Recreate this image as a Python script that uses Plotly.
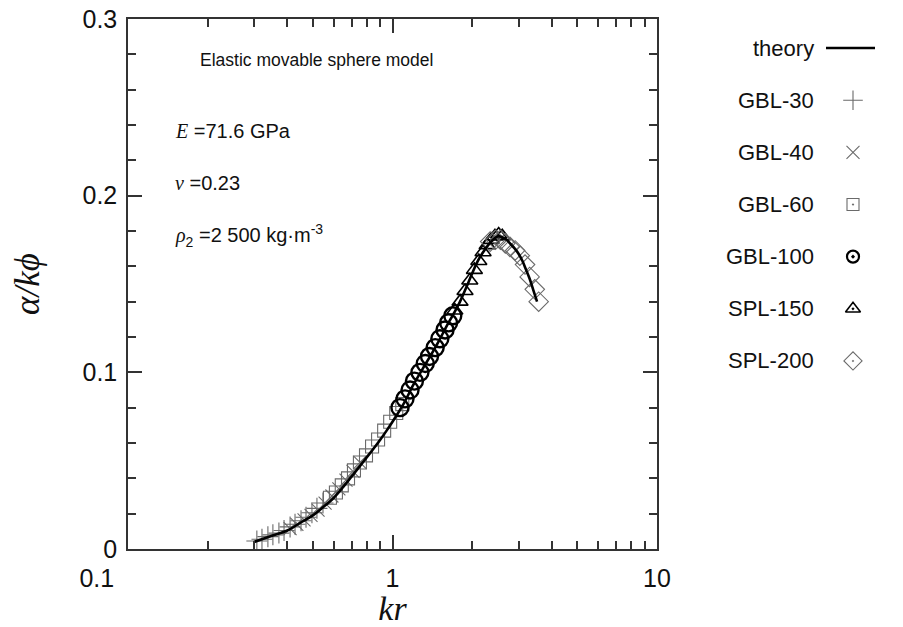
import plotly.graph_objects as go

# ---------------- data ----------------
kr_theory = [0.30, 0.35, 0.40, 0.45, 0.50, 0.55, 0.60, 0.65, 0.70, 0.75, 0.80, 0.85, 0.90, 0.95,
             1.0, 1.1, 1.2, 1.3, 1.4, 1.5, 1.6, 1.7, 1.8, 1.9, 2.0, 2.1, 2.2, 2.3, 2.4, 2.5,
             2.6, 2.7, 2.8, 2.9, 3.0, 3.1, 3.2, 3.3, 3.4, 3.52]
a_theory = [0.004, 0.0075, 0.0105, 0.015, 0.019, 0.024, 0.029, 0.035, 0.041, 0.0466, 0.052, 0.057,
            0.062, 0.067, 0.072, 0.082, 0.093, 0.102, 0.110, 0.118, 0.126, 0.133, 0.140, 0.148,
            0.156, 0.163, 0.168, 0.172, 0.175, 0.177, 0.1765, 0.175, 0.1725, 0.170, 0.167, 0.163,
            0.158, 0.153, 0.147, 0.140]

kr_gbl30 = [0.307, 0.321, 0.338, 0.353, 0.372, 0.389, 0.410, 0.428, 0.451, 0.471, 0.496, 0.518, 0.546]
a_gbl30 = [0.0045, 0.0055, 0.007, 0.008, 0.009, 0.0105, 0.0125, 0.014, 0.016, 0.018, 0.0205, 0.023, 0.026]

kr_gbl40 = [0.410, 0.435, 0.463, 0.492, 0.523, 0.556, 0.590, 0.627, 0.667, 0.709, 0.753]
a_gbl40 = [0.0115, 0.014, 0.0165, 0.019, 0.022, 0.026, 0.030, 0.034, 0.039, 0.044, 0.049]

kr_gbl60 = [0.580, 0.611, 0.643, 0.679, 0.715, 0.753, 0.794, 0.837, 0.882, 0.930, 0.980, 1.033, 1.089]
a_gbl60 = [0.029, 0.032, 0.036, 0.040, 0.0445, 0.049, 0.053, 0.058, 0.062, 0.067, 0.072, 0.077, 0.082]

kr_gbl100 = [1.067, 1.115, 1.165, 1.21, 1.27, 1.33, 1.38, 1.45, 1.51, 1.58, 1.63, 1.69]
a_gbl100 = [0.080, 0.085, 0.090, 0.095, 0.100, 0.105, 0.109, 0.114, 0.119, 0.124, 0.128, 0.132]

kr_spl150 = [1.72, 1.80, 1.88, 1.96, 2.04, 2.12, 2.20, 2.28, 2.36, 2.44, 2.52, 2.60]
a_spl150 = [0.135, 0.140, 0.146, 0.152, 0.158, 0.163, 0.168, 0.172, 0.175, 0.177, 0.178, 0.177]

kr_spl200 = [2.34, 2.45, 2.56, 2.67, 2.78, 2.91, 3.03, 3.17, 3.30, 3.45, 3.57]
a_spl200 = [0.174, 0.175, 0.175, 0.173, 0.171, 0.169, 0.166, 0.161, 0.154, 0.147, 0.140]

x_tickvals = [0.1, 1, 10]
x_ticktext = ["0.1" + "\u00a0" * 9, "1", "10"]
x_minor = [0.2, 0.3, 0.4, 0.5, 0.6, 0.7, 0.8, 0.9, 2, 3, 4, 5, 6, 7, 8, 9]
y_tickvals = [0, 0.1, 0.2, 0.3]
y_ticktext = ["0", "0.1", "0.2", "0.3"]

legend_names = ["theory", "GBL-30", "GBL-40", "GBL-60", "GBL-100", "SPL-150", "SPL-200"]

# ---------------- styling ----------------
W, H = 903, 627
L, R, T, B = 128, 657, 19, 549
GRAY = "#6a6a6a"
BLACK = "#000000"
AX = "#333333"
SANS = "Liberation Sans, Arial, sans-serif"
SERIF = "Liberation Serif, Times New Roman, serif"


def px(x):
    return x / W


def py(y):
    return 1 - y / H


styles = {
    "GBL-30": dict(symbol="cross-thin-open", color=GRAY, size=15, lw=1.1, lsym="cross-thin-open", lsize=14),
    "GBL-40": dict(symbol="x-thin-open", color=GRAY, size=13, lw=1.1, lsym="x-thin-open", lsize=13),
    "GBL-60": dict(symbol="square-open", color=GRAY, size=13, lw=1.1, lsym="square-open-dot", lsize=12),
    "GBL-100": dict(symbol="circle-open", color=BLACK, size=17, lw=2.4, lsym="circle-open-dot", lsize=12),
    "SPL-150": dict(symbol="triangle-up-open", color=BLACK, size=14, lw=1.6, lsym="triangle-up-open-dot", lsize=13),
    "SPL-200": dict(symbol="diamond-open", color=GRAY, size=15, lw=1.1, lsym="diamond-open-dot", lsize=14),
}
series = {
    "GBL-30": (kr_gbl30, a_gbl30),
    "GBL-40": (kr_gbl40, a_gbl40),
    "GBL-60": (kr_gbl60, a_gbl60),
    "GBL-100": (kr_gbl100, a_gbl100),
    "SPL-150": (kr_spl150, a_spl150),
    "SPL-200": (kr_spl200, a_spl200),
}

fig = go.Figure()

for name, (xs, ys) in series.items():
    s = styles[name]
    fig.add_trace(go.Scatter(
        x=xs, y=ys, mode="markers", name=name, showlegend=False,
        marker=dict(symbol=s["symbol"], size=s["size"], color=s["color"],
                    line=dict(color=s["color"], width=s["lw"])),
        xaxis="x", yaxis="y"))

fig.add_trace(go.Scatter(
    x=kr_theory, y=a_theory, mode="lines", name="theory", showlegend=False,
    line=dict(color=BLACK, width=2.6, shape="spline"), xaxis="x", yaxis="y"))

# ---------------- custom legend (text left of the key) ----------------
fig.add_trace(go.Scatter(x=[-27, 22], y=["theory", "theory"], mode="lines", showlegend=False,
                         line=dict(color=BLACK, width=2.4), xaxis="x2", yaxis="y2"))
for name in legend_names[1:]:
    s = styles[name]
    fig.add_trace(go.Scatter(
        x=[0], y=[name], mode="markers", showlegend=False,
        marker=dict(symbol=s["lsym"], size=s["lsize"], color=s["color"],
                    line=dict(color=s["color"], width=s["lw"] if name != "GBL-100" else 2.2)),
        xaxis="x2", yaxis="y2"))

annotations = []
for name in legend_names:
    annotations.append(dict(xref="x2", yref="y2", x=-37, y=name, text=name, showarrow=False,
                            xanchor="right", yanchor="middle",
                            font=dict(family=SANS, size=22, color="#111")))

# ---------------- in-plot text ----------------
annotations += [
    dict(xref="paper", yref="paper", x=px(316), y=py(60),
         text="Elastic movable sphere model", showarrow=False, xanchor="center", yanchor="middle",
         font=dict(family=SANS, size=17.5, color="#111")),
    dict(xref="paper", yref="paper", x=px(173), y=py(131),
         text="<span style='font-family:Liberation Serif'><i>E</i></span> =71.6 GPa",
         showarrow=False, xanchor="left", yanchor="middle",
         font=dict(family=SANS, size=20, color="#111")),
    dict(xref="paper", yref="paper", x=px(173), y=py(183),
         text="<span style='font-family:Liberation Serif'><i>ν</i></span> =0.23",
         showarrow=False, xanchor="left", yanchor="middle",
         font=dict(family=SANS, size=20, color="#111")),
    dict(xref="paper", yref="paper", x=px(173), y=py(235),
         text="<span style='font-family:Liberation Serif'><i>ρ</i></span><sub>2</sub> =2 500 kg·m<sup>-3</sup>",
         showarrow=False, xanchor="left", yanchor="middle",
         font=dict(family=SANS, size=20, color="#111")),
]

axis_common = dict(showgrid=False, zeroline=False, showline=True, linecolor=AX, linewidth=1.5,
                   mirror="ticks", ticks="inside", ticklen=14, tickwidth=1.5, tickcolor=AX,
                   tickfont=dict(family=SANS, size=25, color="#111"))

fig.update_layout(
    width=W, height=H,
    margin=dict(l=0, r=0, t=0, b=0, autoexpand=False),
    paper_bgcolor="white", plot_bgcolor="white",
    showlegend=False,
    xaxis=dict(type="log", range=[-1, 1], domain=[px(L), px(R)], anchor="y",
               tickmode="array", tickvals=x_tickvals, ticktext=x_ticktext,
               minor=dict(tickmode="array", tickvals=x_minor, ticks="inside", ticklen=8,
                          tickwidth=1.5, tickcolor=AX, showgrid=False),
               title=dict(text="<i>kr</i>", font=dict(family=SERIF, size=34, color="#111"), standoff=0),
               ticklabelstandoff=6,
               **axis_common),
    yaxis=dict(range=[0, 0.3], domain=[py(B), py(T)], anchor="x",
               tickmode="array", tickvals=y_tickvals, ticktext=y_ticktext,
               minor=dict(dtick=0.02, ticks="inside", ticklen=8, tickwidth=1.5, tickcolor=AX,
                          showgrid=False),
               title=dict(text="<i>α/kϕ</i>", font=dict(family=SERIF, size=35, color="#111"), standoff=32),
               ticklabelstandoff=4,
               **axis_common),
    xaxis2=dict(domain=[px(690), px(880)], range=[-163, 27], visible=False, anchor="y2",
                fixedrange=True),
    yaxis2=dict(domain=[py(387), py(22)], type="category",
                categoryorder="array", categoryarray=legend_names, range=[6.5, -0.5],
                visible=False, anchor="x2", fixedrange=True),
    annotations=annotations,
)

fig.write_html("out.html", config={"displayModeBar": False},
               post_script="document.body.style.margin='0px';")
